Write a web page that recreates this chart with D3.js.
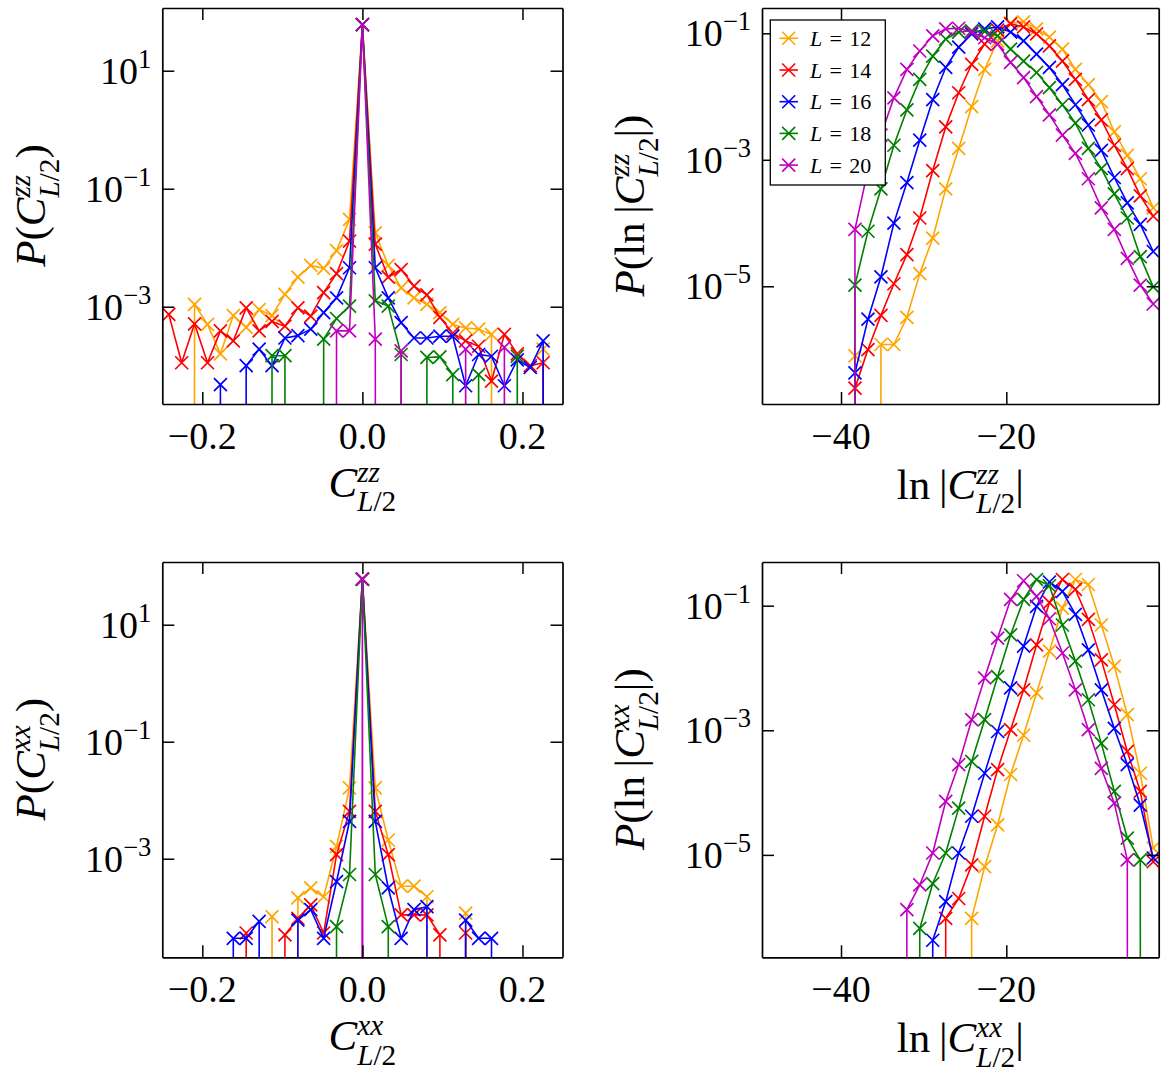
<!DOCTYPE html>
<html>
<head>
<meta charset="utf-8">
<script src="https://cdn.jsdelivr.net/npm/d3@7"></script>
<style>
body { margin: 0; background: #fff; }
svg text { font-family: "Liberation Serif", "DejaVu Serif", serif; fill: #000; }
</style>
</head>
<body>
<svg id="target" width="1168" height="1080"></svg>
<script>
// bin centres (histograms)
const binsC = [-0.2419, -0.2258, -0.2097, -0.1935, -0.1774, -0.1613, -0.1452, -0.1290, -0.1129, -0.0968, -0.0806, -0.0645, -0.0484, -0.0323, -0.0161,
  0, 0.0161, 0.0323, 0.0484, 0.0645, 0.0806, 0.0968, 0.1129, 0.1290, 0.1452, 0.1613, 0.1774, 0.1935, 0.2097, 0.2258, 0.2419];
const binsLn = [-39.88, -38.31, -36.74, -35.17, -33.60, -32.03, -30.47, -28.90, -27.33, -25.76, -24.19, -22.62, -21.05,
  -19.48, -17.91, -16.34, -14.78, -13.21, -11.64, -10.07, -8.50, -6.93, -5.36, -3.79, -2.22];

// log10 of the probability density, null = empty bin
const zzL12 = [null, null, -2.96, -3.30, -3.80, -3.15, -3.35, -3.05, -3.15, -2.79, -2.50, -2.30, -2.35, -2.05, -1.52, 1.78,
  -1.75, -2.30, -2.68, -2.85, -2.96, -3.10, -3.30, -3.36, -3.38, -3.47, null, null, null, -3.72, null];
const zzL14 = [-3.13, -3.95, -3.29, -3.95, -3.41, -3.58, -3.02, -3.41, -3.25, -3.33, -3.02, -3.16, -2.76, -2.44, -1.89, 1.78,
  -1.94, -2.50, -2.37, -2.65, -2.80, -3.18, -3.45, -3.58, -3.67, -4.26, -3.47, -3.80, -4.00, -3.95, null];
const zzL16 = [null, null, null, null, -4.32, null, -4.00, -3.72, -4.00, -3.53, -3.49, -3.38, -3.10, -2.85, -2.34, 1.78,
  -2.34, -2.85, -3.27, -3.53, -3.53, -3.50, -3.50, -4.34, -3.81, -3.84, -4.34, -3.90, -4.03, -3.58, null];
const zzL18 = [null, null, null, null, null, null, null, null, -3.83, -3.83, null, null, -3.55, -3.20, -2.99, 1.78,
  -2.90, -2.99, -3.81, null, -3.86, -3.85, -4.15, null, -4.15, null, null, -3.84, null, null, null];
const zzL20 = [null, null, null, null, null, null, null, null, null, null, null, null, null, -3.41, -3.41, 1.78,
  -3.55, null, -3.75, null, null, null, null, -3.72, null, null, -3.69, null, null, null, null];

const xxL12 = [null, null, null, null, null, null, null, null, -3.99, null, -3.67, -3.50, -3.65, -2.79, -1.79, 1.78,
  -1.79, -2.68, -3.47, -3.47, -3.65, null, null, -3.93, null, null, null, null, null, null, null];
const xxL14 = [null, null, null, null, null, null, -4.27, null, null, -4.30, -4.02, -3.79, -4.27, -2.93, -2.19, 1.78,
  -2.19, -2.93, -3.96, -3.96, -3.96, -4.30, null, -4.27, null, null, null, null, null, null, null];
const xxL16 = [null, null, null, null, null, -4.36, -4.36, -4.07, null, null, -4.05, -3.87, -4.36, -3.39, -2.36, 1.78,
  -2.36, -3.50, -4.36, -3.87, -3.82, null, null, -4.05, -4.36, -4.36, null, null, null, null, null];
const xxL18 = [null, null, null, null, null, null, null, null, null, null, null, null, null, -4.16, -3.27, 1.78,
  -3.27, -4.16, null, null, null, null, null, null, null, null, null, null, null, null, null];
const xxL20 = [null, null, null, null, null, null, null, null, null, null, null, null, null, null, null, 1.78,
  null, null, null, null, null, null, null, null, null, null, null, null, null, null, null];

const lnzzL12 = [null, -6.10, null, -5.92, -5.92, -5.49, -4.80, -4.24, -3.46, -2.82, -2.16, -1.57, -1.12,
  -0.84, -0.82, -0.93, -1.06, -1.25, -1.57, -1.81, -2.08, -2.56, -2.93, -3.30, -3.76];
const lnzzL14 = [null, -6.61, -6.00, -5.46, -4.96, -4.50, -3.92, -3.17, -2.48, -1.94, -1.49, -1.17, -0.95,
  -0.85, -0.90, -1.01, -1.20, -1.44, -1.73, -2.05, -2.37, -2.77, -3.14, -3.57, -3.89];
const lnzzL16 = [null, -6.37, -5.52, -4.85, -4.00, -3.36, -2.69, -2.05, -1.54, -1.22, -1.01, -0.93, -0.90,
  -0.98, -1.12, -1.33, -1.54, -1.81, -2.13, -2.45, -2.85, -3.28, -3.68, -4.02, -4.45];
const lnzzL18 = [null, -4.98, -4.13, -3.46, -2.77, -2.21, -1.73, -1.36, -1.09, -0.98, -0.96, -0.97, -1.04,
  -1.25, -1.44, -1.62, -1.86, -2.13, -2.42, -2.82, -3.14, -3.54, -3.92, -4.53, -5.01];
const lnzzL20 = [null, -4.10, -3.16, -2.61, -2.02, -1.57, -1.28, -1.04, -0.93, -0.92, -0.98, -1.07, -1.17,
  -1.46, -1.70, -2.00, -2.29, -2.61, -2.90, -3.30, -3.76, -4.10, -4.56, -4.98, -5.28];

const lnxxL12 = [null, null, null, null, null, null, null, null, null, null, -6.02, -5.19, -4.52,
  -3.71, -3.08, -2.40, -1.73, -1.04, -0.58, -0.66, -1.31, -1.97, -2.75, -3.69, -4.89];
const lnxxL14 = [null, null, null, null, null, null, null, null, -6.02, -5.70, -5.16, -4.38, -3.63,
  -2.99, -2.35, -1.63, -0.95, -0.58, -0.74, -1.22, -1.87, -2.59, -3.34, -3.98, -5.11];
const lnxxL16 = [null, null, null, null, null, null, null, -6.37, -5.75, -4.97, -4.38, -3.69, -3.02,
  -2.32, -1.65, -1.01, -0.62, -0.77, -1.14, -1.71, -2.35, -2.97, -3.55, -4.20, -5.05];
const lnxxL18 = [null, null, null, null, null, null, -6.18, -5.46, -4.97, -4.25, -3.50, -2.83, -2.14,
  -1.47, -0.90, -0.58, -0.68, -1.31, -1.89, -2.51, -3.21, -3.98, -4.73, -5.08, null];
const lnxxL20 = [null, null, null, null, null, -5.88, -5.48, -4.97, -4.14, -3.55, -2.83, -2.16, -1.52,
  -0.90, -0.60, -0.85, -1.21, -1.76, -2.35, -2.99, -3.61, -4.17, -5.08, null, null];

const systemSizes = [12, 14, 16, 18, 20];
const colors = ["#ffa500", "#ff0000", "#0000ff", "#008000", "#bf00bf"];
const ticksC = [-0.2, 0, 0.2];
const ticksLn = [-40, -20];
const ticksLeftY = [1, -1, -3];
const ticksRightY = [-1, -3, -5];

const svg = d3.select("#target");
const defs = svg.append("defs");
const markerPath = "M-6.5,-6.5L6.5,6.5M-6.5,6.5L6.5,-6.5";

// text with italic parts, superscripts and subscripts
function rich(g, x, y, size, parts, anchor, rotate) {
  const grp = g.append("g").attr("transform", `translate(${x},${y})` + (rotate ? " rotate(-90)" : ""));
  const t = grp.append("text").attr("font-size", size);
  let cur = 0, prev = null;
  parts.forEach(p => {
    const s = p.s || 1, b = p.b || 0;
    const ts = t.append("tspan").text(p.t)
      .attr("font-size", size * s)
      .attr("font-style", p.i ? "italic" : "normal")
      .attr("dy", (cur - b) * size);
    if (p.back && prev) ts.attr("dx", -prev.node().getComputedTextLength());
    if (p.dx) ts.attr("dx", p.dx);
    cur = b;
    prev = ts;
  });
  const bb = t.node().getBBox();
  let shift = -bb.x;
  if (anchor === "middle") shift = -(bb.x + bb.width / 2);
  if (anchor === "end") shift = -(bb.x + bb.width);
  t.attr("transform", `translate(${shift},0)`);
}

const cLab = sup => [
  {t: "C", i: true},
  {t: sup, i: true, s: 0.68, b: 0.36},
  {t: "L", i: true, s: 0.68, b: -0.33, back: true},
  {t: "/2", s: 0.68, b: -0.33}
];

const panels = [
  {x0: 162.3, y0: 8, x1: 562.5, y1: 404, bins: binsC, xDom: [-0.25, 0.25], yDom: [-4.649, 2.063],
    xTicks: ticksC, yTicks: ticksLeftY, fmt: d3.format(".1f"), series: [zzL12, zzL14, zzL16, zzL18, zzL20],
    xLab: cLab("zz"), yLab: [{t: "P", i: true}, {t: "("}, ...cLab("zz"), {t: ")"}], labX: 45, labDy: 93},
  {x0: 762, y0: 8, x1: 1158.7, y1: 404, bins: binsLn, xDom: [-49.56, -1.56], yDom: [-6.861, -0.6],
    xTicks: ticksLn, yTicks: ticksRightY, fmt: d3.format("d"), series: [lnzzL12, lnzzL14, lnzzL16, lnzzL18, lnzzL20],
    xLab: [{t: "ln\u2009|"}, ...cLab("zz"), {t: "|"}],
    yLab: [{t: "P", i: true}, {t: "(ln\u2009|"}, ...cLab("zz"), {t: "|)"}], labX: 644, labDy: 95, legend: true},
  {x0: 162.3, y0: 562, x1: 562.5, y1: 957.3, bins: binsC, xDom: [-0.25, 0.25], yDom: [-4.685, 2.072],
    xTicks: ticksC, yTicks: ticksLeftY, fmt: d3.format(".1f"), series: [xxL12, xxL14, xxL16, xxL18, xxL20],
    xLab: cLab("xx"), yLab: [{t: "P", i: true}, {t: "("}, ...cLab("xx"), {t: ")"}], labX: 45, labDy: 93},
  {x0: 762, y0: 562, x1: 1158.7, y1: 957.3, bins: binsLn, xDom: [-49.56, -1.56], yDom: [-6.644, -0.299],
    xTicks: ticksLn, yTicks: ticksRightY, fmt: d3.format("d"), series: [lnxxL12, lnxxL14, lnxxL16, lnxxL18, lnxxL20],
    xLab: [{t: "ln\u2009|"}, ...cLab("xx"), {t: "|"}],
    yLab: [{t: "P", i: true}, {t: "(ln\u2009|"}, ...cLab("xx"), {t: "|)"}], labX: 644, labDy: 95}
];

panels.forEach((p, pi) => {
  const x = d3.scaleLinear().domain(p.xDom).range([p.x0, p.x1]);
  const y = d3.scaleLog().domain([10 ** p.yDom[0], 10 ** p.yDom[1]]).range([p.y1, p.y0]);
  // empty bins go far below the axis, like a clipped log plot
  const val = v => v === null ? 1e-300 : 10 ** v;

  defs.append("clipPath").attr("id", "clip" + pi)
    .append("rect").attr("x", p.x0).attr("y", p.y0).attr("width", p.x1 - p.x0).attr("height", p.y1 - p.y0);

  const plot = svg.append("g").attr("clip-path", `url(#clip${pi})`);
  const line = d3.line().x((d, i) => x(p.bins[i])).y(d => y(val(d)));

  p.series.forEach((s, si) => {
    plot.append("path").datum(s)
      .attr("d", line)
      .attr("fill", "none")
      .attr("stroke", colors[si])
      .attr("stroke-width", 1.6)
      .attr("stroke-linejoin", "round");
    plot.selectAll(null).data(s.map((v, i) => [p.bins[i], v]).filter(d => d[1] !== null))
      .join("path")
      .attr("transform", d => `translate(${x(d[0])},${y(val(d[1]))})`)
      .attr("d", markerPath)
      .attr("fill", "none")
      .attr("stroke", colors[si])
      .attr("stroke-width", 1.7);
  });

  // frame and inward ticks on all sides
  const axes = [
    [d3.axisBottom(x).tickValues(p.xTicks), `translate(0,${p.y1})`],
    [d3.axisTop(x).tickValues(p.xTicks), `translate(0,${p.y0})`],
    [d3.axisLeft(y).tickValues(p.yTicks.map(e => 10 ** e)), `translate(${p.x0},0)`],
    [d3.axisRight(y).tickValues(p.yTicks.map(e => 10 ** e)), `translate(${p.x1},0)`]
  ];
  axes.forEach(([ax, tr]) => {
    const g = svg.append("g").attr("transform", tr)
      .call(ax.tickSizeInner(-12).tickSizeOuter(0).tickFormat(""));
    g.select(".domain").attr("stroke", "#000").attr("stroke-width", 1.7);
    g.selectAll(".tick line").attr("stroke", "#000").attr("stroke-width", 1.5);
  });

  // tick labels
  p.xTicks.forEach(v => {
    svg.append("text").attr("x", x(v)).attr("y", p.y1 + 45)
      .attr("text-anchor", "middle").attr("font-size", 38)
      .text(p.fmt(v));
  });
  p.yTicks.forEach(e => {
    rich(svg, p.x0 - 11, y(10 ** e) + 13, 38,
      [{t: "10"}, {t: d3.format("d")(e), s: 0.7, b: 0.42}], "end");
  });

  // axis labels
  rich(svg, (p.x0 + p.x1) / 2, p.y1 + p.labDy, 43, p.xLab, "middle");
  rich(svg, p.labX, (p.y0 + p.y1) / 2, 43, p.yLab, "middle", true);

  if (p.legend) {
    const lg = svg.append("g");
    lg.append("rect").attr("x", 770.3).attr("y", 20).attr("width", 115).attr("height", 165)
      .attr("fill", "#fff").attr("stroke", "#000").attr("stroke-width", 1.3);
    systemSizes.forEach((L, i) => {
      const cy = 38.3 + i * 31.7;
      lg.append("line").attr("x1", 779.5).attr("x2", 798).attr("y1", cy).attr("y2", cy)
        .attr("stroke", colors[i]).attr("stroke-width", 1.6);
      lg.append("path").attr("transform", `translate(788.7,${cy})`).attr("d", markerPath)
        .attr("fill", "none").attr("stroke", colors[i]).attr("stroke-width", 1.6);
      rich(lg, 809, cy + 7.5, 22, [{t: "L", i: true}, {t: "\u2004=\u2004" + L}], "start");
    });
  }
});
</script>
</body>
</html>
